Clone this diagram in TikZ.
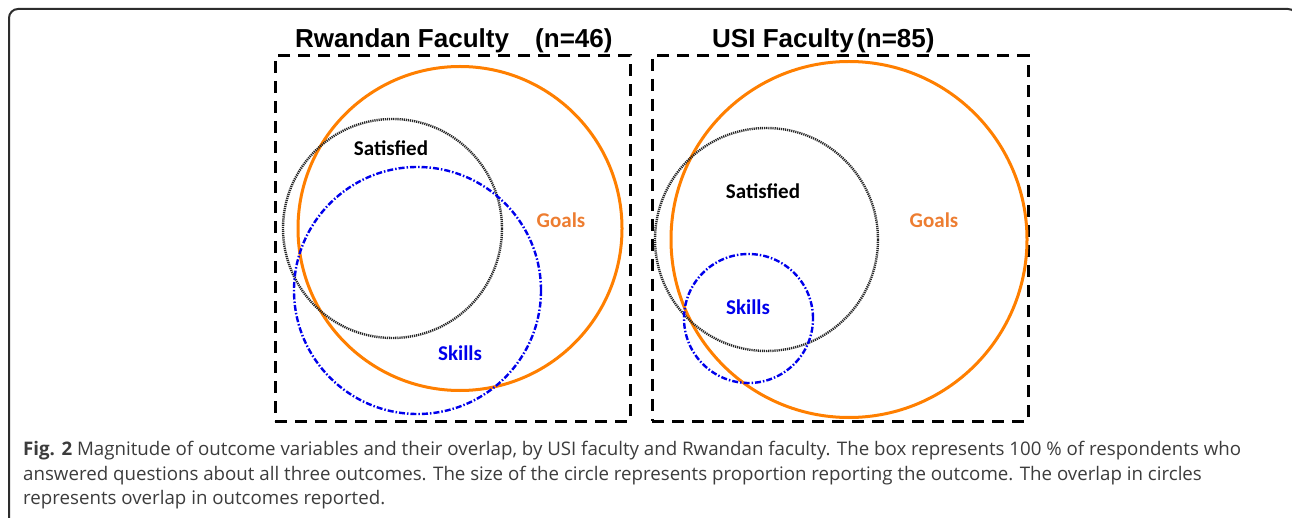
\documentclass[tikz,border=0pt]{standalone}
\usepackage{fontspec}
\setmainfont{Open Sans}
\newfontfamily\titlefont{Liberation Sans}
\newfontfamily\labelfont{Carlito}
\definecolor{goalline}{RGB}{255,127,0}
\definecolor{goaltext}{RGB}{237,125,49}
\definecolor{skillblue}{RGB}{0,0,235}
\definecolor{framegray}{RGB}{45,45,45}
\definecolor{captext}{RGB}{60,60,60}
\tikzset{
  panelbox/.style={draw=black, line width=3pt, dash pattern=on 12pt off 8pt, rectangle, inner sep=0pt},
  goalcirc/.style={circle, inner sep=0pt, draw=goalline, line width=3pt},
  satcirc/.style={circle, inner sep=0pt, draw=black!85, line width=2.4pt, dash pattern=on 1.2pt off 0.9pt},
  skillcirc/.style={circle, inner sep=0pt, draw=skillblue, line width=2.4pt, dash pattern=on 6pt off 2pt on 1.5pt off 2pt},
  titletext/.style={anchor=base west, inner sep=0pt, font=\titlefont\bfseries\fontsize{26}{30}\selectfont},
  circlabel/.style={inner sep=0pt, font=\labelfont\bfseries\fontsize{21}{25}\selectfont},
  captionline/.style={anchor=base west, inner sep=0pt, text=captext, font=\fontsize{18.7}{22}\selectfont},
}
\begin{document}
\begin{tikzpicture}[x=1pt,y=-1pt]
\useasboundingbox (0,0) rectangle (1292,518);
% outer frame
\draw[framegray, line width=2pt, rounded corners=9pt] (9,545) -- (9,9) -- (1297,9) -- (1297,545);
% titles
\node[titletext] (t1) at (295,48) {Rwandan Faculty};
\node[titletext] (t2) at (535,48) {(n=46)};
\node[titletext] (t3) at (712,48) {USI Faculty};
\node[titletext] (t4) at (857,48) {(n=85)};
% boxes
\node[panelbox, minimum width=355pt, minimum height=365pt] (boxL) at (452.5,238.5) {};
\node[panelbox, minimum width=376pt, minimum height=365pt] (boxR) at (840,238.5) {};
% left panel circles
\node[goalcirc, minimum size=324pt] (goalL) at (460,228.5) {};
\node[satcirc, minimum size=219pt] (satL) at (392.5,228.5) {};
\node[skillcirc, minimum size=247pt] (skillL) at (417.5,290.5) {};
% right panel circles
\node[goalcirc, minimum size=356pt] (goalR) at (849,239.5) {};
\node[satcirc, minimum size=223pt] (satR) at (766.5,239.5) {};
\node[skillcirc, minimum size=129pt] (skillR) at (748.5,318.5) {};
% labels
\node[circlabel, text=black] (lsatL) at (391,148) {Satisfied};
\node[circlabel, text=goaltext] (lgoalL) at (561,220) {Goals};
\node[circlabel, text=skillblue] (lskillL) at (460,353) {Skills};
\node[circlabel, text=black] (lsatR) at (763,191) {Satisfied};
\node[circlabel, text=goaltext] (lgoalR) at (934,220) {Goals};
\node[circlabel, text=skillblue] (lskillR) at (748,307) {Skills};
% caption
\node[captionline] (c1) at (23,455) {\textbf{Fig. 2} Magnitude of outcome variables and their overlap, by USI faculty and Rwandan faculty. The box represents 100 \% of respondents who};
\node[captionline] (c2) at (23,480) {answered questions about all three outcomes. The size of the circle represents proportion reporting the outcome. The overlap in circles};
\node[captionline] (c3) at (23,504) {represents overlap in outcomes reported.};
\end{tikzpicture}
\end{document}
